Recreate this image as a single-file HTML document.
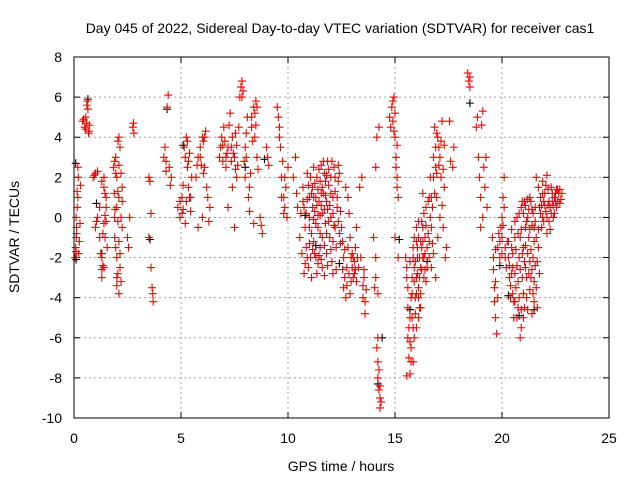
<!DOCTYPE html>
<html><head><meta charset="utf-8"><style>
body{margin:0;background:#fff;}
svg text{font-family:"Liberation Sans",sans-serif;font-size:14px;fill:#000;}
</style></head><body>
<svg id="chart" width="640" height="480" xmlns="http://www.w3.org/2000/svg">
<rect width="640" height="480" fill="#fff"/>
<text x="340" y="33" text-anchor="middle">Day 045 of 2022, Sidereal Day-to-day VTEC variation (SDTVAR) for receiver cas1</text>
<text x="341" y="471" text-anchor="middle">GPS time / hours</text>
<text transform="translate(19,237) rotate(-90)" text-anchor="middle">SDTVAR / TECUs</text>
<g id="grid"></g>
<g id="ticks"></g>
<g id="blackpts"></g>
<g id="redpts"></g>
<rect x="74" y="57" width="535" height="361" fill="none" stroke="#000" stroke-width="1"/>
</svg>
<script>
const xTicks=[0,5,10,15,20,25];
const yTicks=[-10,-8,-6,-4,-2,0,2,4,6,8];
const redPoints=[
[0.05,-2],[0.08,-1.5],[0.1,-1],[0.12,-0.5],[0.1,0],[0.15,0.5],[0.15,1.3],[0.2,2],[0.18,2.5],[0.22,-1.8],[0.25,-1.2],[0.28,-0.3],[0.3,1.6],
[0.4,4.8],[0.45,4.9],[0.5,4.5],[0.55,5],[0.6,5.6],[0.62,5.8],[0.65,5.4],[0.7,4.3],[0.72,4.6],[0.68,4.2],
[0.9,2],[0.95,2.1],[1.0,2.2],[1.1,2.3],[1.0,-0.5],[1.05,-0.2],[1.1,0],[1.2,-1],[1.25,-1.8],[1.3,-2],[1.3,-3],[1.35,-2.4],[1.4,-2.5],[1.4,1.5],[1.45,1.2],[1.5,1],[1.5,0.5],[1.4,-0.3],[1.2,0.5],[1.55,-1.5],[1.3,1.8],[1.45,0.1],[1.35,-0.8],
[1.85,2.5],[1.9,2.8],[1.95,3],[2.0,2],[2.05,3.8],[2.1,4],[2.1,1],[1.9,-1],[2.0,-2],[2.0,-3],[2.1,-3.8],[2.15,-2.5],[2.2,0],[2.25,-0.5],[2.25,1.5],[2.0,0.5],[2.15,3.5],[1.9,0],[1.95,-1.5],[2.05,-2.8],[2.2,2.2],[2.1,-1.2],[1.88,1.2],[2.05,-0.2],[2.2,-3.2],
[2.5,-1],[2.55,-1.5],[2.6,0],[2.75,4.5],[2.8,4.2],[2.78,4.7],
[3.5,2],[3.55,1.8],[3.6,-2.5],[3.65,-3.5],[3.7,-4.2],[3.6,0.2],[3.5,-1],[3.68,-3.8],
[4.2,3],[4.25,3.5],[4.3,2.3],[4.35,5.5],[4.4,6.1],[4.45,2.5],[4.55,2],[4.5,1.6],[4.3,2.8],
[4.85,0.5],[4.95,0],[5.05,1],[5.15,3.5],[5.25,4],[5.3,2.5],[5.35,1.5],[5.45,0.3],[5.5,2],[5.2,-0.3],[5.1,0.4],[5.3,3.8],[5.4,1],[5.25,0.8],[5.1,1.6],[5.4,3.2],
[5.7,2],[5.8,3],[5.9,3.5],[6.0,4],[6.1,2.5],[6.2,1.5],[6.3,-0.2],[6.0,0],[5.8,-0.5],[6.35,0.5],[6.05,3.8],[5.95,2.6],[6.15,4.3],[6.25,1],[5.75,2.6],
[6.8,3],[6.85,3.5],[6.9,4],[7.0,4.5],[7.05,3.8],[7.1,2.5],[7.15,3.2],[7.2,3.5],[7.3,5.2],[7.4,4],[7.45,3.2],[7.5,3],[7.6,2],[7.7,4.5],[7.2,0.5],[7.5,-0.5],[7.35,2.8],[7.55,4.2],[7.65,2.6],[6.95,2.8],[7.4,1.5],
[7.8,6.5],[7.85,6.8],[7.9,6.3],[8.0,3.5],[8.0,2],[8.05,4.2],[8.1,5],[8.15,1],[8.2,0.3],[8.3,4.5],[8.35,3.8],[8.4,5.5],[8.45,5.2],[8.5,5.8],[8.55,3],[8.4,-0.3],[8.6,2.4],[7.95,2.8],[8.25,2.2],[8.5,4.6],
[8.7,0],[8.8,-0.8],[8.75,-0.4],[9.0,3.5],[9.05,3],[9.1,2.6],
[9.5,5.5],[9.55,5],[9.6,4.5],[9.65,3.5],[9.7,2],[9.8,1],[9.85,0.5],[10.0,2.5],[9.8,0.2],[9.9,1.5],[9.75,2.8],[9.95,0],
[10.25,2],[10.35,3],[10.45,0.5],[10.55,-1],[10.4,1.2],
[10.7,1.5],[10.75,0.5],[10.8,-0.5],[10.85,-1.5],[10.9,-2],[10.95,-2.5],[11.0,0],[11.0,1],[11.05,2],[11.1,-0.8],[11.15,1.5],[11.2,2.5],[11.2,-1.2],[11.25,0.3],[11.3,-2],[11.3,1],[11.35,2],[11.4,-0.5],[11.45,0.8],[11.5,1.8],[11.5,-1.5],[11.55,2.6],[11.6,0.2],[11.6,-2.5],[11.65,1.2],[11.7,2.2],[11.75,-0.3],[11.8,-1.8],[11.8,0.8],[11.85,2.8],[11.9,1.6],[11.95,-1],[12.0,0],[12.0,2],[12.05,-2.2],[12.1,1],[12.15,2.5],[12.2,-0.5],[12.25,-1.5],[12.3,0.5],[12.35,1.8],[12.4,-0.8],[12.45,0.3],[11.1,-3],[11.35,-2.8],[11.7,-2.9],[10.8,-2.3],[11.4,0.1],[11.0,-1.3],[11.25,1.7],[11.6,1.5],[11.9,-0.2],[12.1,-1.2],[10.9,0.9],[11.55,0.6],[11.8,2.1],[11.15,0.5],[10.95,1.6],[11.45,-1.9],[12.2,1.3],[11.75,1.1],[12.35,2.6],
[12.5,-0.5],[12.55,-1.2],[12.6,-2],[12.65,-3],[12.7,-4],[12.75,-2.5],[12.8,-1.5],[12.85,0.2],[12.9,-1],[12.95,-2],[13.0,-2.5],[13.05,-3],[13.1,-2.2],[13.15,-1.5],[13.2,-0.5],[12.7,1.5],[12.8,1],[12.6,-3.5],[12.9,-3.8],[13.1,-2.8],[13.0,-1.8],[13.2,-3.2],
[13.35,1.5],[13.45,2],[13.3,-2.5],[13.55,-3],[13.5,-4],[13.6,-4.8],[13.4,-2],[13.55,-2.6],[13.65,-3.6],
[14.0,-1],[14.05,-3.5],[14.1,-3],[14.15,-6.5],[14.2,-7.2],[14.2,-8],[14.25,-8.6],[14.3,-9],[14.3,-9.5],[14.1,-2],[14.15,4],[14.25,4.5],[14.1,2.5],[14.2,-3.8],
[14.75,5],[14.8,4.5],[14.85,5.5],[14.95,6],[15.0,4],[15.0,5.2],[15.05,3],[15.1,2],[15.15,1],[15.0,-1],[15.15,-2],[14.9,4.8],[15.1,3.6],
[15.5,-2],[15.55,-3],[15.6,-4.5],[15.6,-6],[15.65,-7],[15.7,-7.8],[15.75,-6.5],[15.8,-5],[15.8,-3],[15.85,-1.5],[15.9,-2.5],[15.95,-4],[16.0,-5.5],[16.0,-3],[16.05,-2],[16.1,-1],[16.1,-3.5],[16.15,-4.5],[16.2,-2.5],[16.25,-1.5],[16.3,-0.5],[16.3,-2],[16.35,-3],[16.4,-1],[16.45,0.5],[16.5,-1.5],[15.9,-6],[15.7,-5],[16.0,-1.2],[16.2,-3.8],[15.85,-7.2],[15.55,-7.9],[16.4,-2.6],[16.1,-5],[15.75,-4],[16.3,1.2],
[16.6,1],[16.65,2],[16.7,-0.5],[16.75,0.5],[16.8,3],[16.85,4.5],[16.9,2.5],[16.95,1],[17.0,-1],[17.0,4],[17.05,3.5],[17.1,0],[17.15,2],[17.2,4.8],[17.25,-0.5],[17.3,1.5],[17.35,-2],[17.4,-1.5],[16.7,-2.5],[16.8,-1.8],[16.9,-3],[16.6,-2],[17.1,3],[16.95,2.2],[17.3,3.6],
[17.55,4.8],[17.6,2.8],[17.7,2.5],[17.75,3.5],
[18.4,7.2],[18.45,6.8],[18.5,6.5],[18.5,7],
[18.8,4.5],[18.85,5],[18.9,3],[18.95,2],[19.0,1],[19.05,4.6],[19.1,5.3],[19.1,0],[19.15,2.5],[19.2,1.5],[19.25,3],[19.3,0.5],[19.0,-0.5],
[19.55,-1],[19.6,-2],[19.65,-3.5],[19.7,-5],[19.75,-5.8],[19.8,-4],[19.8,-1.5],[19.9,-2],[20.0,-1],[20.0,0],[20.05,1],[20.1,2],[20.15,-1.5],[20.2,-2.5],[19.7,-3.2],[19.95,-0.5],[20.1,0.5],
[20.3,-2],[20.35,-3],[20.4,-4],[20.45,-1.5],[20.5,-2.5],[20.55,-5],[20.6,-1],[20.65,-3.5],[20.7,0],[20.75,-4.5],[20.8,-2],[20.85,-6],[20.9,0.5],[20.95,-3],[21.0,-1.5],[21.0,-5],[21.05,0.8],[21.1,-2.5],[21.15,-4],[21.2,0],[21.25,-1],[21.3,1],[21.35,-3],[21.4,-4.8],[21.45,-2],[21.5,-0.5],[21.55,0.5],[21.6,-3.5],[21.65,-4.5],[21.7,-1.5],[20.6,-4.2],[20.9,-5.5],[21.1,-0.5],[21.3,-2.2],[21.5,-3.2],[20.45,-2.8],[20.75,-0.8],[21.2,0.9],[21.4,0.4],
[21.6,2],[21.7,1.5],[21.75,0.5],[21.8,1],[21.85,-0.5],[21.9,0],[21.95,0.8],[22.0,1.2],[22.05,0.3],[22.1,-0.8],[22.15,0.6],[22.2,-0.2],[22.25,0.5],[22.3,1.5],[22.35,0.8],[22.4,0],[22.45,1],[22.5,1.2],[22.55,0.5],[22.6,1.4],[22.7,0.7],[22.8,1.2],[22.1,2.1],[21.9,1.8]
];
const redExtra=[
[0.1,-1.7],[0.12,-0.8],[0.18,1.0],[0.55,4.4],[0.6,4.7],[1.4,2.0],[1.45,-1.0],[1.3,-2.6],[1.5,-0.2],[2.0,-3.4],[2.1,2.6],[2.05,1.3],[2.15,-1.8],[1.95,2.2],[1.92,0.4],[2.25,0.8],
[4.95,0.8],[5.05,0.2],[5.35,2.8],[5.2,3.0],[5.45,1.0],[5.9,3.0],[6.05,2.2],[6.1,4.0],[6.95,3.6],[7.1,3.0],[7.25,4.6],[7.35,3.5],[7.55,2.4],[7.6,3.6],[7.75,6.0],[7.85,6.0],[8.05,3.0],[8.2,1.5],[8.3,5.0],[8.45,4.0],[8.55,5.5],
[9.6,4.0],[9.7,1.0],[9.85,2.0],[10.6,0.2],[10.65,-1.8],[10.7,0.8],[10.75,-2.8],[10.85,0.2],[10.9,2.2],[11.0,-0.5],[11.05,-2.0],[11.1,1.2],[11.2,-0.1],[11.2,1.0],[11.3,-0.3],[11.35,0.6],[11.4,1.4],[11.45,2.4],[11.5,0.1],[11.5,-0.8],[11.55,1.2],[11.6,-1.0],[11.65,2.8],[11.7,0.4],[11.7,-1.4],[11.75,1.8],[11.8,-0.8],[11.85,0.4],[11.85,-2.4],[11.9,2.4],[11.95,0.6],[12.0,1.2],[12.0,-1.6],[12.05,2.8],[12.1,0.2],[12.15,-0.4],[12.2,2.0],[12.25,-2.6],[12.3,1.0],[12.35,-0.2],[12.4,2.2],[12.45,-1.3],[11.25,-1.8],[11.4,-2.3],[11.55,-2.1],[11.15,-1.6],[12.1,-2.8],
[12.55,-2.6],[12.65,-1.6],[12.75,-3.4],[12.85,-2.8],[12.95,-3.2],[13.05,-2.0],[13.15,-2.6],[13.25,-2.0],[13.5,-3.4],[13.6,-4.2],
[14.2,-6.0],[14.25,-7.6],[14.3,-8.4],[14.35,-9.2],[14.9,5.8],[14.95,4.3],[15.05,2.5],[15.1,1.5],
[15.55,-2.5],[15.6,-3.5],[15.65,-5.5],[15.7,-6.2],[15.7,-2.2],[15.75,-7.2],[15.8,-3.8],[15.85,-5.5],[15.85,-2.0],[15.9,-1.0],[15.9,-3.2],[15.95,-4.8],[15.95,-2.2],[16.0,-0.5],[16.0,-3.8],[16.05,-1.5],[16.05,-2.8],[16.1,-4.0],[16.1,-0.2],[16.15,-2.0],[16.15,-3.0],[16.2,-1.2],[16.2,-4.5],[16.25,-2.6],[16.25,-0.2],[16.3,-1.2],[16.35,-2.0],[16.35,0.2],[16.4,-1.8],[16.45,-0.4],[16.5,-2.5],[16.45,-3.2],[16.55,-0.8],[16.55,0.8],[16.6,-1.2],[16.65,0.0],[16.7,1.0],[16.75,-1.3],[16.8,2.0],[16.85,1.2],[16.9,3.5],[16.95,4.2],[17.05,2.6],[17.15,3.8],[17.2,0.6],[17.25,2.4],
[19.6,-2.6],[19.65,-4.2],[19.7,-1.6],[19.85,-0.8],[19.9,-1.2],[20.0,-1.8],[20.05,-0.4],[20.15,-2.0],[20.25,-1.2],
[20.3,-1.2],[20.35,-2.4],[20.4,-3.4],[20.45,-0.6],[20.5,-1.8],[20.5,-3.8],[20.55,-4.2],[20.6,-0.2],[20.6,-2.8],[20.65,-1.6],[20.7,-2.4],[20.7,-5.0],[20.75,-3.2],[20.8,0.2],[20.8,-4.0],[20.85,-1.0],[20.85,-2.6],[20.9,-4.6],[20.9,-0.6],[20.95,-1.8],[20.95,0.8],[21.0,-3.8],[21.0,0.2],[21.05,-2.2],[21.05,-4.5],[21.1,0.6],[21.1,-1.4],[21.15,-3.0],[21.15,-0.2],[21.2,-1.8],[21.2,-4.6],[21.25,0.4],[21.25,-2.8],[21.3,-3.6],[21.3,-0.6],[21.35,-1.6],[21.35,0.8],[21.4,-2.6],[21.4,-0.4],[21.45,-3.8],[21.45,0.2],[21.5,-1.2],[21.5,-4.2],[21.55,-2.4],[21.55,-0.2],[21.6,-1.0],[21.65,-2.2],[21.7,-0.6],[21.75,-2.8],
[21.8,0.2],[21.85,0.6],[21.9,1.2],[21.95,-0.2],[22.0,0.6],[22.05,1.6],[22.1,0.0],[22.15,1.4],[22.2,0.8],[22.25,-0.6],[22.3,0.2],[22.35,1.2],[22.4,0.6],[22.45,0.2],[22.5,0.8],[22.55,1.4],[22.6,0.8],[22.65,1.2],[22.7,1.4],[22.75,0.9]
];
const blackPoints=[
[0.08,2.7],[0.1,-2.1],[0.65,5.9],[1.05,0.7],[1.3,-1.8],[3.55,-1.1],[4.35,5.4],[5.1,3.6],[8.0,2.5],[8.9,2.9],[10.8,0.1],[11.3,-1.4],[12.4,-2.3],[14.2,-8.3],[14.4,-6],[15.2,-1.1],[15.7,-4.6],[16.5,-2.2],[18.5,5.7],[19.9,-2.4],[20.3,-3.9],[20.8,-4.9],[21.5,-4.6]
];
const X0=74,X1=609,Y0=418,Y1=57,XMIN=0,XMAX=25,YMIN=-10,YMAX=8;
const sx=v=>X0+(v-XMIN)/(XMAX-XMIN)*(X1-X0);
const sy=v=>Y0-(v-YMIN)/(YMAX-YMIN)*(Y0-Y1);
const NS="http://www.w3.org/2000/svg";
const grid=document.getElementById('grid'),ticks=document.getElementById('ticks');
function mk(tag,attrs,parent){const e=document.createElementNS(NS,tag);for(const k in attrs)e.setAttribute(k,attrs[k]);parent.appendChild(e);return e;}
xTicks.forEach(t=>{const x=sx(t);
 if(t>XMIN&&t<XMAX){const g=mk('line',{x1:x,x2:x,y1:Y1,y2:Y0,stroke:'#a0a0a0','stroke-dasharray':'2,3'},grid);}
 const a=mk('line',{x1:x,x2:x,y1:Y0,y2:Y0-6,stroke:'#000'},ticks);
 const b=mk('line',{x1:x,x2:x,y1:Y1,y2:Y1+6,stroke:'#000'},ticks);
 const l=mk('text',{x:x,y:443,'text-anchor':'middle'},ticks);l.textContent=t;});
yTicks.forEach(t=>{const y=sy(t);
 if(t>YMIN&&t<YMAX){const g=mk('line',{x1:X0,x2:X1,y1:y,y2:y,stroke:'#a0a0a0','stroke-dasharray':'2,3'},grid);}
 const a=mk('line',{x1:X0,x2:X0+6,y1:y,y2:y,stroke:'#000'},ticks);
 const b=mk('line',{x1:X1,x2:X1-6,y1:y,y2:y,stroke:'#000'},ticks);
 const l=mk('text',{x:X0-12,y:y+5,'text-anchor':'end'},ticks);l.textContent=t;});
function plus(p,col,parent,name){const x=sx(p[0]),y=sy(p[1]);
 const e=mk('path',{d:`M${x-4},${y}H${x+4}M${x},${y-4}V${y+4}`,stroke:col,'stroke-width':1.1,fill:'none'},parent);
 
 }
blackPoints.forEach(p=>plus(p,'#000',document.getElementById('blackpts'),'black-point'));
redPoints.forEach(p=>plus(p,'#ff0000',document.getElementById('redpts'),'red-point'));
redExtra.forEach(p=>plus(p,'#ff0000',document.getElementById('redpts'),'red-point'));
</script>
</body></html>
